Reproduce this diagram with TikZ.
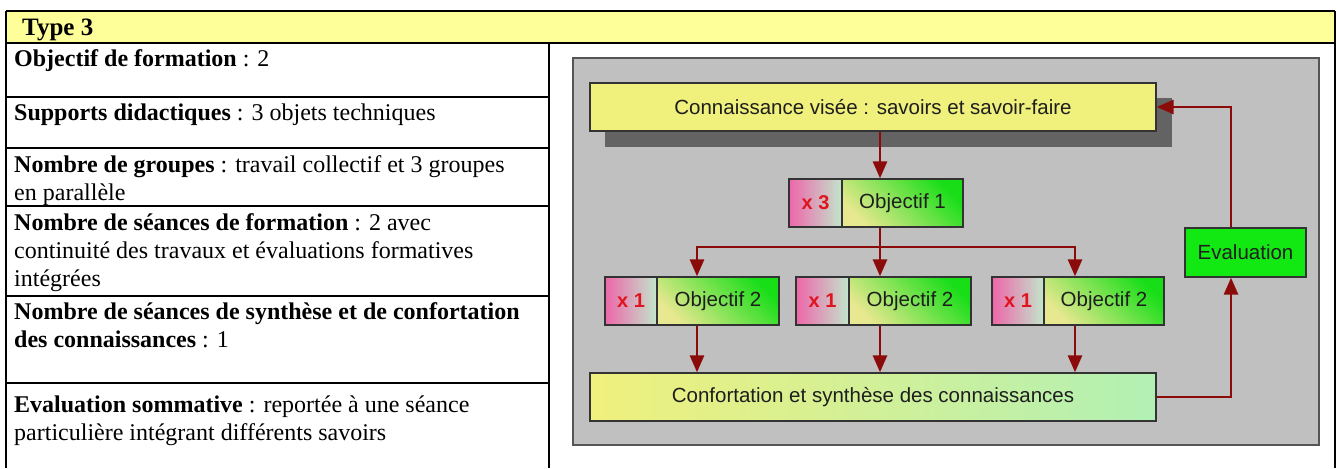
\documentclass[tikz,border=0pt]{standalone}
\usepackage{fontspec}
\setmainfont{Liberation Serif}
\newfontfamily\sansf{Liberation Sans}
\usetikzlibrary{arrows.meta,calc}
\definecolor{hdr}{HTML}{FFFF99}
\definecolor{panelgray}{HTML}{C0C0C0}
\definecolor{panelline}{HTML}{555555}
\definecolor{boxline}{HTML}{333333}
\definecolor{topY}{HTML}{F0F07C}
\definecolor{shadowc}{HTML}{636363}
\definecolor{arrc}{HTML}{8B0A0A}
\definecolor{pinkL}{HTML}{EE66AA}
\definecolor{pinkR}{HTML}{C2E6CC}
\definecolor{objY}{HTML}{E8E890}
\definecolor{objG}{HTML}{18DE18}
\definecolor{confY}{HTML}{F0F07C}
\definecolor{confG}{HTML}{B2F0B4}
\definecolor{evG}{HTML}{12E812}
\definecolor{redc}{HTML}{E0141E}
\definecolor{txtc}{HTML}{1E1E1E}
\begin{document}
\begin{tikzpicture}[x=1pt,y=-1pt,
  tline/.style={line width=2.6pt, draw=black},
  cell/.style={anchor=base west, inner sep=0pt, font=\fontsize{24}{28}\selectfont},
  panel/.style={fill=panelgray, draw=panelline, line width=2.5pt},
  dbox/.style={draw=boxline, line width=1.3pt, inner sep=0pt, minimum height=48pt,
    font=\sansf\fontsize{20.5}{24}\selectfont, text=txtc},
  mult/.style={dbox, left color=pinkL, right color=pinkR, text=redc,
    font=\sansf\bfseries\fontsize{20}{24}\selectfont},
  obj/.style={dbox, bottom color=objY, top color=objG, shading angle=-45},
  aline/.style={draw=arrc, line width=2.8pt},
  arr/.style={aline, -{Triangle[length=17pt,width=14pt]}}
]
\useasboundingbox (0,0) rectangle (1337,468);
\fill[white] (0,0) rectangle (1337,468);
% table
\fill[hdr] (6,11) rectangle (1335,43);
\draw[tline] (6,11) -- (1335,11);
\draw[tline] (6,43) -- (1335,43);
\draw[tline] (6,11) -- (6,468);
\draw[tline] (1335,11) -- (1335,468);
\draw[tline] (549,43) -- (549,468);
\foreach \yy in {97,148,206,296,383} \draw[tline] (6,\yy) -- (549,\yy);
\node[cell, font=\bfseries\fontsize{25}{28}\selectfont] (t0) at (22,36) {Type 3};
\node[cell] (t1) at (14,67) {\textbf{Objectif de formation} : 2};
\node[cell] (t2) at (14,121) {\textbf{Supports didactiques} : 3 objets techniques};
\node[cell] (t3a) at (14,172) {\textbf{Nombre de groupes} : travail collectif et 3 groupes};
\node[cell] (t3b) at (14,200) {en parallèle};
\node[cell] (t4a) at (14,230) {\textbf{Nombre de séances de formation} : 2 avec};
\node[cell] (t4b) at (14,258) {continuité des travaux et évaluations formatives};
\node[cell] (t4c) at (14,286) {intégrées};
\node[cell] (t5a) at (14,319) {\textbf{Nombre de séances de synthèse et de confortation}};
\node[cell] (t5b) at (14,347) {\textbf{des connaissances} : 1};
\node[cell] (t6a) at (14,412) {\textbf{Evaluation sommative} : reportée à une séance};
\node[cell] (t6b) at (14,440) {particulière intégrant différents savoirs};
% diagram panel
\draw[panel] (573,58) rectangle (1319,445);
\fill[shadowc] (605,98) rectangle (1172,147);
\node[dbox, fill=topY, minimum width=566pt] (top) at (873,107) {Connaissance visée : savoirs et savoir-faire};
\node[mult, minimum width=53pt] (m1) at (815.5,203) {x 3};
\node[obj, minimum width=121pt] (o1) at (902.5,203) {Objectif 1};
\node[mult, minimum width=52pt] (ma) at (631,301) {x 1};
\node[obj, minimum width=122pt] (oa) at (718,301) {Objectif 2};
\node[mult, minimum width=53pt] (mb) at (822.5,301) {x 1};
\node[obj, minimum width=122pt] (ob) at (910,301) {Objectif 2};
\node[mult, minimum width=52pt] (mc) at (1018,301) {x 1};
\node[obj, minimum width=120pt] (oc) at (1104,301) {Objectif 2};
\node[dbox, left color=confY, right color=confG, minimum width=566pt] (conf) at (873,397) {Confortation et synthèse des connaissances};
\node[dbox, fill=evG, minimum width=121pt, minimum height=49pt] (ev) at (1245.5,252.5) {Evaluation};
% connectors
\coordinate (br) at (880,247);
\coordinate (ga) at (697,0);
\coordinate (gc) at (1075,0);
\coordinate (fb) at (1231,0);
\draw[arr] (top.south -| br) -- (m1.north -| br);
\draw[aline] (o1.south -| br) -- (br);
\draw[arr] (br) -| (ma.north -| ga);
\draw[arr] (br) -- (mb.north -| br);
\draw[arr] (br) -| (mc.north -| gc);
\draw[arr] (oa.south -| ga) -- (conf.north -| ga);
\draw[arr] (ob.south -| br) -- (conf.north -| br);
\draw[arr] (oc.south -| gc) -- (conf.north -| gc);
\draw[arr] (conf.east) -| (ev.south -| fb);
\draw[arr] (ev.north -| fb) |- (top.east);
\end{tikzpicture}
\end{document}
